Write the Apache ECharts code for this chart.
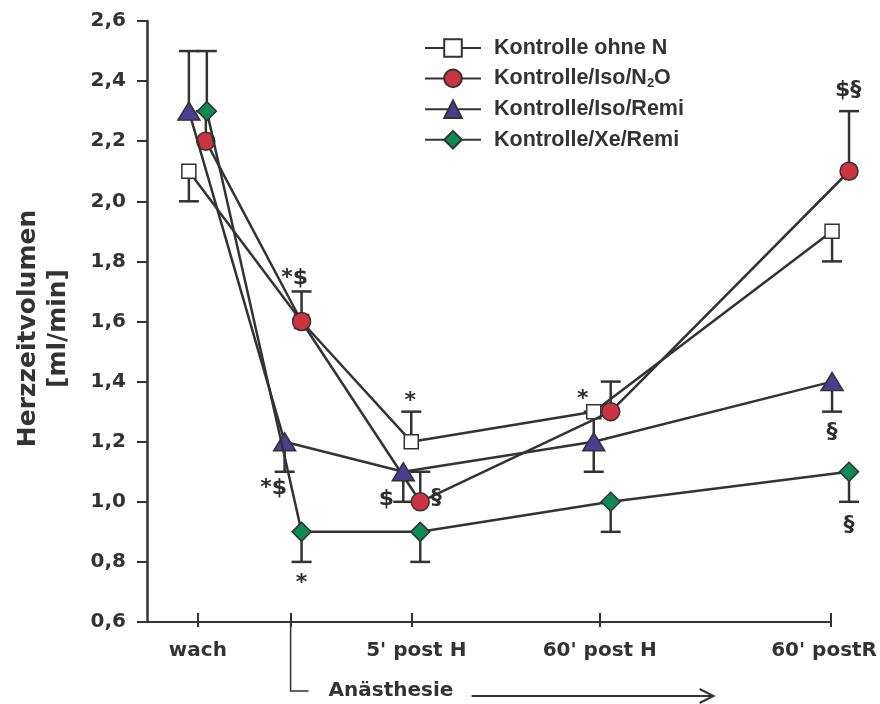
<!DOCTYPE html>
<html><head><meta charset="utf-8">
<script src="https://cdn.jsdelivr.net/npm/echarts@6/dist/echarts.min.js"></script>
<style>html,body{margin:0;padding:0;background:#fff}#c{width:880px;height:704px}</style>
</head><body><div id="c"></div>
<script>
// ---- data ----
const tickPositions = [51, 144, 265, 454, 686];
const tickLabels = ['wach', '', "5' post H", "60' post H", "60' postR"];
const seriesNames = ['Kontrolle ohne N', 'Kontrolle/Iso/N2O', 'Kontrolle/Iso/Remi', 'Kontrolle/Xe/Remi'];

const squareX = [42, 155, 265, 448, 687];
const squareY = [2.1, 1.6, 1.2, 1.3, 1.9];
const squareErr = [2.0, null, 1.3, null, 1.8];

const circleX = [59, 155, 274, 465, 704];
const circleY = [2.2, 1.6, 1.0, 1.3, 2.1];
const circleErr = [2.3, 1.7, 1.1, 1.4, 2.3];

const triangleX = [42, 138, 257, 448, 687];
const triangleY = [2.3, 1.2, 1.1, 1.2, 1.4];
const triangleErr = [2.5, 1.1, 1.0, 1.1, 1.3];
const triangleErrUp = [null, null, null, 1.3, null];

const diamondX = [60, 155, 274, 465, 704];
const diamondY = [2.3, 0.9, 0.9, 1.0, 1.1];
const diamondErr = [2.5, 0.8, 0.8, 0.9, 1.0];

const noteText = ['*$', '*', '*$', '$', '§', '*', '*', '$§', '§', '§'];
const noteX = [148, 264, 127, 240, 290, 155, 437, 703, 687, 704];
const noteY = [1.745, 1.333, 1.046, 1.008, 1.012, 0.728, 1.342, 2.37, 1.233, 0.923];

// ---- styles ----
const INK = '#333333';
const FONT = 'DejaVu Sans';
const colors = ['#ffffff', '#cb3440', '#4b3d8f', '#0d8a55'];
const symbols = ['rect', 'circle', 'triangle', 'diamond'];
const symbolSizes = [[14, 14], 18, [22, 18], [19, 19]];
const X_MIN = 0, X_AXIS_END = 686, X_MAX = 712;

const xs = [squareX, circleX, triangleX, diamondX];
const ys = [squareY, circleY, triangleY, diamondY];
const errs = [squareErr, circleErr, triangleErr, diamondErr];

function pairs(x, y) { return x.map((v, i) => [v, y[i]]); }
function errData() {
  const out = [];
  errs.forEach((e, s) => e.forEach((v, i) => { if (v != null) out.push([xs[s][i], ys[s][i], v]); }));
  triangleErrUp.forEach((v, i) => { if (v != null) out.push([triangleX[i], triangleY[i], v]); });
  return out;
}

function errItem(params, api) {
  const p0 = api.coord([api.value(0), api.value(1)]);
  const p1 = api.coord([api.value(0), api.value(2)]);
  return { type: 'group', children: [
    { type: 'line', shape: { x1: p0[0], y1: p0[1], x2: p1[0], y2: p1[1] }, style: { stroke: INK, lineWidth: 2.5 } },
    { type: 'line', shape: { x1: p1[0] - 10, y1: p1[1], x2: p1[0] + 10, y2: p1[1] }, style: { stroke: INK, lineWidth: 2.5 } }
  ]};
}

const chart = echarts.init(document.getElementById('c'), null, { renderer: 'canvas' });

const lineSeries = seriesNames.map((name, s) => ({
  name, type: 'line', data: pairs(xs[s], ys[s]), clip: false, z: 3 + s,
  symbol: symbols[s], symbolSize: symbolSizes[s], showAllSymbol: true,
  lineStyle: { color: INK, width: 2.5 },
  itemStyle: { color: colors[s], borderColor: INK, borderWidth: 1.5 },
  emphasis: { disabled: true }, animation: false
}));

const gridLeft = 147;
const gridRight = 880 - gridLeft - (X_MAX - X_MIN);

chart.setOption({
  animation: false,
  grid: { left: gridLeft, right: gridRight, top: 21, bottom: 82 },
  legend: {
    orient: 'vertical', left: 424, top: 37, padding: 0, itemWidth: 56, itemHeight: 22, itemGap: 8.4,
    data: seriesNames, selectedMode: false,
    formatter: n => n === 'Kontrolle/Iso/N2O' ? 'Kontrolle/Iso/N{sub|2}O' : n,
    textStyle: { color: INK, fontFamily: 'Liberation Sans', fontWeight: 'bold', fontSize: 21.5, padding: [0, 0, 0, 8],
      rich: { sub: { fontFamily: 'Liberation Sans', fontWeight: 'bold', fontSize: 13, color: INK, padding: [10, 0, 0, 0] } } }
  },
  xAxis: [{
    type: 'value', min: X_MIN, max: X_MAX,
    axisLine: { show: false },
    splitLine: { show: false },
    axisTick: { show: true, customValues: tickPositions, inside: true, length: 9, lineStyle: { color: INK, width: 2 } },
    axisLabel: { customValues: tickPositions, margin: 19, color: INK, fontFamily: FONT, fontWeight: 'bold', fontSize: 20,
      formatter: v => { const i = tickPositions.indexOf(v); return i < 0 ? '' : (i === 4 ? '{r|' + tickLabels[i] + '}' : (i === 2 ? '{l|' + tickLabels[i] + '}' : tickLabels[i])); },
      rich: { r: { fontFamily: FONT, fontWeight: 'bold', fontSize: 20, color: INK, padding: [0, 14, 0, 0] },
              l: { fontFamily: FONT, fontWeight: 'bold', fontSize: 20, color: INK, padding: [0, 0, 0, 10] } } }
  }, {
    type: 'value', min: X_MIN, max: X_MAX, position: 'bottom',
    axisLine: { show: false }, splitLine: { show: false }, axisLabel: { show: false },
    axisTick: { show: true, customValues: tickPositions, inside: false, length: 5, lineStyle: { color: INK, width: 2 } }
  }],
  yAxis: {
    type: 'value', min: 0.6, max: 2.6, interval: 0.2,
    name: 'Herzzeitvolumen\n[ml/min]', nameLocation: 'middle', nameGap: 74, nameRotate: 90,
    nameTextStyle: { color: INK, fontFamily: FONT, fontWeight: 'bold', fontSize: 25, lineHeight: 30, padding: [0, 14, 0, 0] },
    axisLine: { show: true, lineStyle: { color: INK, width: 2.5 } },
    axisTick: { show: true, length: 10, lineStyle: { color: INK, width: 2 } },
    splitLine: { show: false },
    axisLabel: { margin: 21, color: INK, fontFamily: FONT, fontWeight: 'bold', fontSize: 20,
      formatter: v => v.toFixed(1).replace('.', ',') }
  },
  series: [
    { type: 'custom', name: 'err', renderItem: errItem, data: errData(), z: 1, clip: false, silent: true,
      markLine: { silent: true, symbol: ['none', 'none'], animation: false, label: { show: false },
        lineStyle: { color: INK, width: 2, type: 'solid' }, emphasis: { disabled: true },
        data: [[{ coord: [X_MIN, 0.6] }, { coord: [X_AXIS_END, 0.6] }]] } },
    ...lineSeries,
    { type: 'scatter', name: 'notes', symbolSize: 1, itemStyle: { opacity: 0 }, z: 10, silent: true, clip: false,
      data: noteText.map((t, i) => ({ value: [noteX[i], noteY[i]], label: { formatter: t } })),
      label: { show: true, position: 'inside', color: '#2e2e2e', opacity: 1, fontFamily: FONT, fontWeight: 'bold', fontSize: 22 },
      emphasis: { disabled: true } }
  ]
});

const ax = chart.convertToPixel({ xAxisIndex: 0 }, tickPositions[1]);
const ay = chart.convertToPixel({ yAxisIndex: 0 }, 0.6);
chart.setOption({ graphic: [
  { type: 'polyline', shape: { points: [[ax, ay], [ax, ay + 69], [ax + 18, ay + 69]] }, style: { stroke: INK, lineWidth: 1.5, fill: null } },
  { type: 'text', x: ax + 38, y: ay + 69, style: { text: 'Anästhesie', fill: INK, font: 'bold 20px "DejaVu Sans"', verticalAlign: 'middle', align: 'left' } },
  { type: 'line', shape: { x1: ax + 181, y1: ay + 74, x2: ax + 423, y2: ay + 74 }, style: { stroke: INK, lineWidth: 2 } },
  { type: 'polyline', shape: { points: [[ax + 409, ay + 67], [ax + 423, ay + 74], [ax + 409, ay + 81]] }, style: { stroke: INK, lineWidth: 2, fill: null } }
]});
</script>
</body></html>
